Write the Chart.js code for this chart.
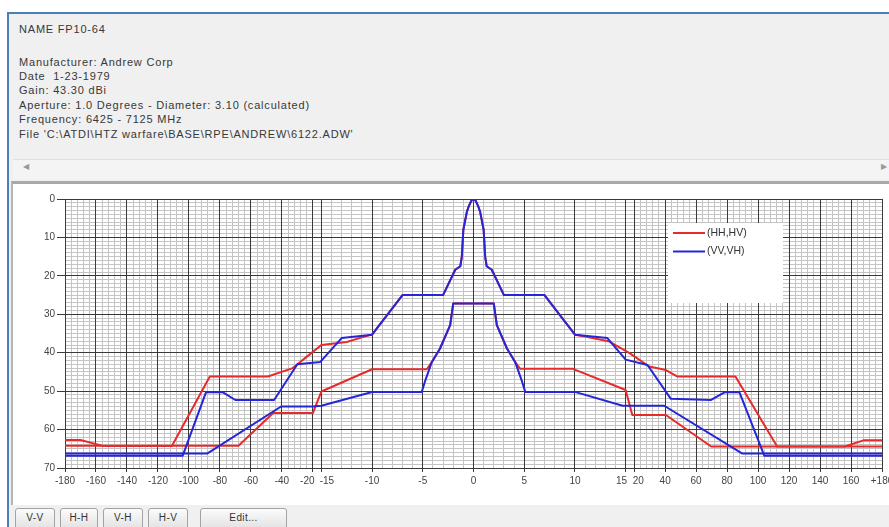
<!DOCTYPE html>
<html><head><meta charset="utf-8">
<script src="https://cdn.jsdelivr.net/npm/chart.js@4.4.0/dist/chart.umd.min.js"></script>
<style>
html,body{margin:0;padding:0;width:889px;height:527px;overflow:hidden;background:#fff;font-family:"Liberation Sans",Arial,sans-serif;}
#frame{position:absolute;left:7px;top:12px;width:900px;height:530px;background:#f0f0f0;border-left:2px solid #4a7ebb;border-top:2px solid #4a7ebb;}
.t{position:absolute;left:19px;font-size:11px;letter-spacing:0.8px;color:#383838;white-space:pre;line-height:14px;}
#scroll{position:absolute;left:13px;top:159px;width:880px;height:19px;background:#f4f4f4;border-top:1px solid #e0e0e0;}
.arr{position:absolute;top:162px;font-size:8px;color:#999;}
#panel{position:absolute;left:11px;top:181px;width:880px;height:321px;background:#fff;border-top:3px solid #a9a9a9;border-left:2px solid #b4b4b4;}
#wrap{position:absolute;left:13px;top:185px;width:876px;height:317px;}
.btn{position:absolute;top:508px;height:22px;box-sizing:border-box;border:1px solid #a3a3a3;border-radius:3px;background:linear-gradient(#fbfbfb,#e2e2e2);font-size:10px;letter-spacing:0.4px;color:#333;text-align:center;line-height:17px;}
</style></head>
<body>
<div id="frame"></div>
<div class="t" style="top:22px">NAME FP10-64</div>
<div class="t" style="top:55px">Manufacturer: Andrew Corp</div>
<div class="t" style="top:69px">Date  1-23-1979</div>
<div class="t" style="top:83px">Gain: 43.30 dBi</div>
<div class="t" style="top:98px">Aperture: 1.0 Degrees - Diameter: 3.10 (calculated)</div>
<div class="t" style="top:112px">Frequency: 6425 - 7125 MHz</div>
<div class="t" style="top:127px">File 'C:\ATDI\HTZ warfare\BASE\RPE\ANDREW\6122.ADW'</div>
<div id="scroll"></div>
<div class="arr" style="left:23px">&#9664;</div>
<div class="arr" style="left:881px">&#9654;</div>
<div id="panel"></div>
<div id="wrap"><canvas id="c" width="876" height="317"></canvas></div>
<div class="btn" style="left:15px;width:40px">V-V</div>
<div class="btn" style="left:60px;width:38px">H-H</div>
<div class="btn" style="left:103px;width:40px">V-H</div>
<div class="btn" style="left:148px;width:40px">H-V</div>
<div class="btn" style="left:200px;width:87px">Edit...</div>
<script>
// ---- data (angle in degrees, attenuation in dB) ----
const VV = [[-180,66.8],[-104,66.8],[-89,50.3],[-78,50.3],[-70,52.3],[-45,52.3],[-30,43],[-15.6,42.4],[-13,36.2],[-10,35.3],[-7,25],[-3,25],[-1.8,18.4],[-1.3,17.5],[-1.15,15],[-1.0,8],[-0.65,3.3],[-0.45,1.8],[-0.2,0.4],[0,0],[0.2,0.4],[0.45,1.8],[0.65,3.3],[1.0,8],[1.15,15],[1.3,17.5],[1.8,18.4],[3,25],[7,25],[10,35.3],[13.2,36.2],[15,41.8],[28.6,43.2],[43.7,52],[69.7,52.3],[78.3,50.3],[88,50.3],[104,66.8],[180,66.8]];
const VH = [[-180,66.2],[-88,66.2],[-40.5,54],[-20,54],[-15,53.8],[-10,50.2],[-5.1,50.2],[-4.8,47.6],[-4.1,42.4],[-3.3,38.9],[-2.3,32.8],[-2,27.2],[2,27.2],[2.3,32.8],[3.3,38.9],[4.1,42.4],[4.8,47.6],[5.1,50.2],[10,50.2],[14.7,53.8],[39.4,53.8],[89.6,66.2],[180,66.2]];
const HH = [[-180,62.7],[-170,62.7],[-155,64.3],[-111,64.3],[-86.5,46.2],[-49,46.2],[-33,44],[-21,40.1],[-15,38],[-12.5,37.2],[-11,36],[-10,35.3],[-7,25],[-3,25],[-1.8,18.4],[-1.3,17.5],[-1.15,15],[-1.0,8],[-0.65,3.3],[-0.45,1.8],[-0.2,0.4],[0,0],[0.2,0.4],[0.45,1.8],[0.65,3.3],[1.0,8],[1.15,15],[1.3,17.5],[1.8,18.4],[3,25],[7,25],[10,35.3],[11,35.8],[13.3,37],[17.3,40.1],[29.7,43.6],[40.5,44.5],[48,46.2],[85.4,46.2],[112.3,64.4],[156,64.4],[168,62.8],[180,62.8]];
const HV = [[-180,64.2],[-68,64.2],[-45.6,55.7],[-20,55.7],[-15,50.1],[-10,44.3],[-4.6,44.3],[-4.1,42.4],[-3.3,38.9],[-2.3,32.8],[-2,27.2],[2,27.2],[2.3,32.8],[3.3,38.9],[4.1,42.4],[4.6,44.2],[9.8,44.2],[15,49.7],[18.9,56.2],[40.5,56.2],[69.7,64.4],[180,64.4]];
const LEGEND_LABELS = ['(HH,HV)', '(VV,VH)'];
const X_TICKS = [-180,-160,-140,-120,-100,-80,-60,-40,-20,-15,-10,-5,0,5,10,15,20,40,60,80,100,120,140,160,180];
const X_TICK_LABELS = ['-180','-160','-140','-120','-100','-80','-60','-40','-20','-15','-10','-5','0','5','10','15','20','40','60','80','100','120','140','160','+180'];
const Y_TICKS = [0,10,20,30,40,50,60,70];

// ---- piecewise angle axis (expanded centre) ----
const BRK_DEG = [-180,-20,-15,15,20,180];
const BRK_U = [0,248,256.5,561,569.5,817.5];
function warpFrac(v){
  for(let i=0;i<BRK_DEG.length-1;i++){
    const a=BRK_DEG[i],b=BRK_DEG[i+1];
    if(v<=b||i===BRK_DEG.length-2){
      const t=(v-a)/(b-a);
      return (BRK_U[i]+t*(BRK_U[i+1]-BRK_U[i]))/BRK_U[BRK_U.length-1];
    }
  }
}
function unwarp(f){
  const u=f*BRK_U[BRK_U.length-1];
  for(let i=0;i<BRK_U.length-1;i++){
    if(u<=BRK_U[i+1]||i===BRK_U.length-2){
      const t=(u-BRK_U[i])/(BRK_U[i+1]-BRK_U[i]);
      return BRK_DEG[i]+t*(BRK_DEG[i+1]-BRK_DEG[i]);
    }
  }
}
class WarpScale extends Chart.LinearScale {
  getPixelForValue(value){ return value===null?NaN:this.getPixelForDecimal(warpFrac(value)); }
  getValueForPixel(pixel){ return unwarp(this.getDecimalForPixel(pixel)); }
}
WarpScale.id='warp';
WarpScale.defaults=Chart.LinearScale.defaults;
Chart.register(WarpScale);

const xMinor=[]; for(let d=-180;d<=-20;d+=4)xMinor.push(d); for(let d=-15;d<=15;d+=1)xMinor.push(d); for(let d=20;d<=180;d+=4)xMinor.push(d);
const yMinor=[]; for(let d=0;d<=70;d++)yMinor.push(d);

const NB='\u00A0';
function tickLabel(i){
  const s=X_TICK_LABELS[i];
  const v=X_TICKS[i];
  if(v===-20||v===15) return s+NB.repeat(s.length+1);
  if(v===-15||v===20) return NB.repeat(s.length+1)+s;
  return s;
}

const boxLegend={
  id:'boxLegend',
  afterDatasetsDraw(chart){
    const {ctx,chartArea:a}=chart;
    const x=a.left+603,y=a.top+24,w=115,h=80;
    const cols=[chart.data.datasets[2].borderColor,chart.data.datasets[0].borderColor];
    ctx.save();
    ctx.fillStyle='#fff';ctx.fillRect(x,y,w,h);
    LEGEND_LABELS.forEach((lab,i)=>{
      const ly=y+10+i*18.5;
      ctx.strokeStyle=cols[i];ctx.lineWidth=2;
      ctx.beginPath();ctx.moveTo(x+5,ly);ctx.lineTo(x+37,ly);ctx.stroke();
      ctx.fillStyle='#333';ctx.font='10.5px "Liberation Sans"';ctx.textBaseline='middle';ctx.textAlign='left';
      ctx.fillText(lab,x+39,ly);
    });
    ctx.restore();
  }
};

const pts=a=>a.map(p=>({x:p[0],y:p[1]}));
const RED='#e52b2b', BLUE='#2626d6';
const FONT={size:10,family:'"Liberation Sans", Arial, sans-serif'};
new Chart(document.getElementById('c'),{
  type:'line',
  data:{datasets:[
    {label:'VV',data:pts(VV),borderColor:BLUE},
    {label:'VH',data:pts(VH),borderColor:BLUE},
    {label:'HH',data:pts(HH),borderColor:RED},
    {label:'HV',data:pts(HV),borderColor:RED}
  ]},
  plugins:[boxLegend],
  options:{
    responsive:false,animation:false,devicePixelRatio:1,
    layout:{padding:{top:14,right:7,left:0,bottom:0}},
    plugins:{legend:{display:false},tooltip:{enabled:false}},
    elements:{point:{radius:0},line:{borderWidth:2,tension:0,borderJoinStyle:'round'}},
    scales:{
      x:{type:'warp',position:'bottom',min:-180,max:180,
        afterBuildTicks:s=>{s.ticks=X_TICKS.map(v=>({value:v}));},
        ticks:{autoSkip:false,maxRotation:0,minRotation:0,color:'#444',font:FONT,padding:3,callback:(v,i)=>tickLabel(i)},
        grid:{color:'#3a3a3a',lineWidth:1,tickLength:4},
        border:{color:'#3a3a3a'},
        afterFit:s=>{s.height=34;s.paddingLeft=0;s.paddingRight=0;}
      },
      xm:{type:'warp',position:'bottom',min:-180,max:180,
        afterBuildTicks:s=>{s.ticks=xMinor.map(v=>({value:v}));},
        ticks:{display:false},
        grid:{color:'#c4c4c4',drawTicks:false,z:-2},
        border:{display:false},
        afterFit:s=>{s.height=0;s.paddingLeft=0;s.paddingRight=0;}
      },
      y:{type:'linear',position:'left',reverse:true,min:0,max:70,
        afterBuildTicks:s=>{s.ticks=Y_TICKS.map(v=>({value:v}));},
        ticks:{color:'#444',font:FONT,padding:2,callback:v=>String(v)},
        grid:{color:'#3a3a3a',tickLength:8},
        border:{color:'#3a3a3a'},
        afterFit:s=>{s.width=52;s.paddingTop=0;s.paddingBottom=0;}
      },
      ym:{type:'linear',position:'left',reverse:true,min:0,max:70,
        afterBuildTicks:s=>{s.ticks=yMinor.map(v=>({value:v}));},
        ticks:{display:false},
        grid:{color:'#c4c4c4',drawTicks:false,z:-2},
        border:{display:false},
        afterFit:s=>{s.width=0;s.paddingTop=0;s.paddingBottom=0;}
      }
    }
  }
});
</script>
</body></html>
